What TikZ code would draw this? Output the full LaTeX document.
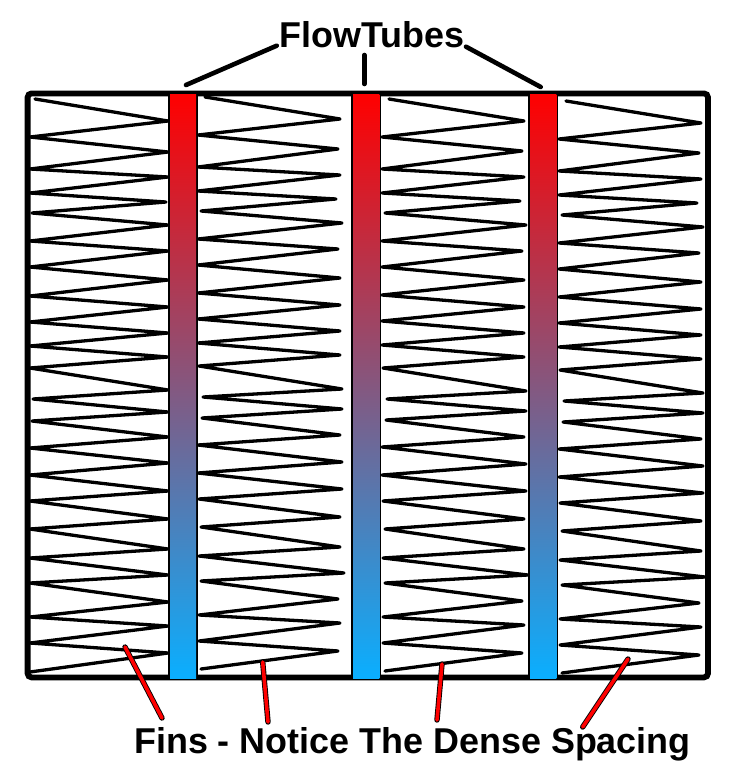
\documentclass[tikz,border=0pt]{standalone}
\usepackage{fontspec}
\setmainfont{Liberation Sans}
\tikzset{
  fin/.style={draw=black,line width=3.3pt,line cap=round,line join=round},
  tubeedge/.style={fill=black,draw=none},
  tube/.style={top color=tubetop,bottom color=tubebottom,draw=none},
  frame/.style={draw=black,line width=5.8pt,rounded corners=4pt},
  pointer/.style={draw=black,line width=4.6pt,line cap=round},
  redback/.style={draw=black,line width=5.4pt,line cap=round},
  redfront/.style={draw=finred,line width=3.6pt,line cap=round},
  big/.style={font=\fontsize{35.9}{40}\selectfont\bfseries,inner sep=0pt,anchor=base west}
}
\definecolor{tubetop}{RGB}{255,0,0}
\definecolor{tubebottom}{RGB}{10,175,255}
\definecolor{finred}{RGB}{255,0,0}
\newcommand{\firstfin}{(35,99) -- (168,121) -- (30,137) -- (168,152) -- (30,169) -- (168,177) -- (30,193) -- (166,202) -- (32,213) -- (168,225) -- (30,241) -- (168,251) -- (30,267) -- (168,280) -- (30,296) -- (168,307) -- (30,322) -- (168,333) -- (30,346) -- (168,357) -- (30,368) -- (168,390) -- (33,399) -- (168,412) -- (32,421) -- (168,437) -- (30,448) -- (168,463) -- (30,475) -- (168,491) -- (30,501) -- (168,519) -- (30,529) -- (168,549) -- (30,558) -- (168,575) -- (30,583) -- (168,602) -- (30,617) -- (168,626) -- (30,643) -- (168,653) -- (30,672)}
\newcommand{\nextfin}{(205,97) -- (340,119) -- (198,135) -- (338,149) -- (198,167) -- (340,175) -- (198,191) -- (336,199) -- (201,211) -- (342,223) -- (198,239) -- (338,249) -- (198,265) -- (340,278) -- (198,293) -- (340,305) -- (198,319) -- (340,331) -- (198,343) -- (340,355) -- (199,366) -- (342,389) -- (203,397) -- (342,409) -- (202,418) -- (340,435) -- (198,445) -- (342,462) -- (198,473) -- (342,489) -- (199,499) -- (340,517) -- (201,527) -- (340,547) -- (199,556) -- (344,573) -- (201,581) -- (338,599) -- (199,615) -- (340,623) -- (199,641) -- (338,651) -- (201,669)}
\begin{document}
\begin{tikzpicture}[x=1pt,y=-1pt]
\useasboundingbox[fill=white] (0,0) rectangle (747,782);
% fins
\draw[fin] \firstfin;
\draw[fin] \nextfin;
\draw[fin,shift={(184,2)}] \nextfin;
\draw[fin,shift={(361,4)}] \nextfin;
% frame
\draw[frame] (27.6,93.4) rectangle (708,677.4);
% tubes
\fill[tubeedge] (168,94) rectangle (198,678);
\shade[tube] (170,94) rectangle (196.2,678);
\fill[tubeedge] (351,94) rectangle (381,678);
\shade[tube] (353,94) rectangle (379.3,678);
\fill[tubeedge] (528.3,94) rectangle (558.3,678);
\shade[tube] (530.2,94) rectangle (556.3,678);
% labels
\node[big] (flow) at (279.5,47.5) {FlowTubes};
\node[big] (fins) at (134,753) {Fins - Notice The Dense Spacing};
% tube pointers
\coordinate (ta) at (186,85);
\coordinate (tae) at (276.7,45.7);
\coordinate (tb) at (364.3,84);
\coordinate (tbe) at (364.3,55);
\coordinate (tc) at (540.7,87);
\coordinate (tce) at (466,46.7);
\draw[pointer] (tae) -- (ta);
\draw[pointer] (tbe) -- (tb);
\draw[pointer] (tce) -- (tc);
% fin pointers
\coordinate (fa) at (125,647);
\coordinate (fae) at (162,718);
\coordinate (fb) at (262.7,662);
\coordinate (fbe) at (268,722);
\coordinate (fc) at (442,664);
\coordinate (fce) at (437,720);
\coordinate (fd) at (628,659);
\coordinate (fde) at (582.7,727);
\foreach \p/\q in {fa/fae,fb/fbe,fc/fce,fd/fde}{
  \draw[redback] (\q) -- (\p);
  \draw[redfront] (\q) -- (\p);
}
\end{tikzpicture}
\end{document}
